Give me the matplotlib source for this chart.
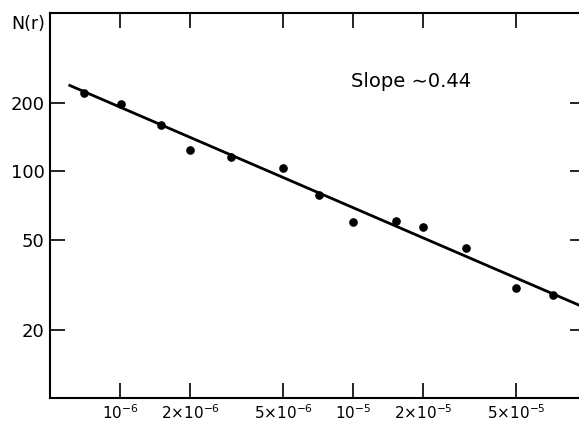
import matplotlib
matplotlib.use("Agg")
import matplotlib.pyplot as plt
import numpy as np

# measured points
r = [7.0e-7, 1.01e-6, 1.5e-6, 2.0e-6, 3.0e-6, 5.0e-6, 7.1e-6,
     1.0e-5, 1.53e-5, 2.0e-5, 3.05e-5, 5.0e-5, 7.2e-5]
n_r = [222, 199, 161, 124, 116, 104, 79, 60, 60.5, 56.8, 46, 30.7, 28.6]

# fitted line end points
fit_x = [6.0e-7, 9.9e-5]
fit_y = [241, 25.0]

x_ticks = [1e-6, 2e-6, 5e-6, 1e-5, 2e-5, 5e-5]
x_labels = [r"$10^{-6}$", r"$2{\times}10^{-6}$", r"$5{\times}10^{-6}$",
            r"$10^{-5}$", r"$2{\times}10^{-5}$", r"$5{\times}10^{-5}$"]
y_ticks = [20, 50, 100, 200]
y_labels = ["20", "50", "100", "200"]

plt.rcParams['font.family'] = ['DejaVu Sans']
plt.rcParams['mathtext.fontset'] = 'dejavusans'

fig = plt.figure(figsize=(5.79, 4.22), dpi=100)
# right spine sits just outside the picture, as in the scan
ax = fig.add_axes([0.0864, 0.057, 0.924, 0.912])

ax.plot(fit_x, fit_y, color='black', linewidth=2.0, solid_capstyle='butt')
ax.plot(r, n_r, 'o', color='black', markersize=5.2)

ax.set_xscale('log')
ax.set_yscale('log')
ax.set_xlim(5.0e-7, 9.88e-5)
ax.set_ylim(10, 500)

ax.set_xticks(x_ticks)
ax.set_xticklabels(x_labels)
ax.set_yticks(y_ticks)
ax.set_yticklabels(y_labels)
ax.minorticks_off()

ax.tick_params(axis='both', which='major', direction='in', length=11,
               width=1.2, top=True, right=True, labelsize=13, pad=4)
ax.tick_params(axis='x', labelsize=11)
for s in ax.spines.values():
    s.set_linewidth(1.5)

ax.text(-0.01, 0.972, "N(r)", transform=ax.transAxes, ha='right', va='center',
        fontsize=12.5)
ax.text(0.563, 0.822, "Slope \u223c0.44", transform=ax.transAxes,
        ha='left', va='center', fontsize=14)

fig.savefig("out.png", dpi=100)
